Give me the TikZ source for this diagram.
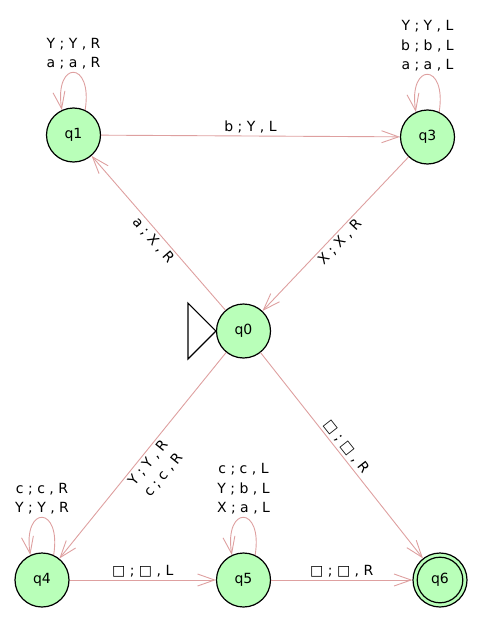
\documentclass[tikz,border=0pt]{standalone}
\usepackage{fontspec}
\setmainfont{DejaVu Sans}
\usetikzlibrary{arrows.meta}
\definecolor{statefill}{RGB}{185,255,185}
\definecolor{edgecol}{RGB}{222,160,160}
\begin{document}
\begin{tikzpicture}[x=1pt,y=-1pt,
  every node/.style={font=\fontsize{14}{19.5}\selectfont},
  state/.style={circle, draw=black, line width=1.2pt, fill=statefill,
    minimum size=54pt, inner sep=0pt},
  edge/.style={draw=edgecol, line width=0.9pt,
    -{Straight Barb[length=17pt,width=12pt]}},
  lbl/.style={inner sep=2.5pt, text=black}]
\useasboundingbox (0,0) rectangle (494,626);

% states
\node[state] (q0) at (243.5,331) {q0};
\node[state] (q1) at (73.5,135) {q1};
\node[state] (q3) at (427.5,137) {q3};
\node[state] (q4) at (42,580) {q4};
\node[state] (q5) at (243.5,580) {q5};
\node[state] (q6) at (440,580) {q6};
\draw[line width=1.2pt] (q6.center) circle[radius=22.8pt];

% start marker
\draw[line width=1.2pt] (q0.west) -- ++(-28,-28) -- ++(0,56) -- cycle;

% transitions
\draw[edge] (q1) -- node[above, lbl] {b ; Y , L} (q3);
\draw[edge] (q0) -- node[pos=0.49, sloped, below, lbl] {a ; X , R} (q1);
\draw[edge] (q3) -- node[pos=0.513, sloped, below, lbl] {X ; X , R} (q0);
\draw[edge] (q0) -- node[pos=0.508, sloped, below, lbl, align=center]
  {Y ; Y , R\\c ; c , R} (q4);
\draw[edge] (q0) -- node[pos=0.485, sloped, above, lbl] {□ ; □ , R} (q6);
\draw[edge] (q4) -- node[above, lbl] {□ ; □ , L} (q5);
\draw[edge] (q5) -- node[above, lbl] {□ ; □ , R} (q6);

% self loops
\draw[edge] (q1.65) .. controls +(8,-50) and +(-8,-50) ..
  node[above, lbl, align=center] {Y ; Y , R\\a ; a , R} (q1.115);
\draw[edge] (q3.65) .. controls +(8,-50) and +(-8,-50) ..
  node[above, lbl, align=center] {Y ; Y , L\\b ; b , L\\a ; a , L} (q3.115);
\draw[edge] (q4.65) .. controls +(8,-50) and +(-8,-50) ..
  node[above, lbl, align=center] {c ; c , R\\Y ; Y , R} (q4.115);
\draw[edge] (q5.65) .. controls +(8,-50) and +(-8,-50) ..
  node[above, lbl, align=center] {c ; c , L\\Y ; b , L\\X ; a , L} (q5.115);
\end{tikzpicture}
\end{document}
